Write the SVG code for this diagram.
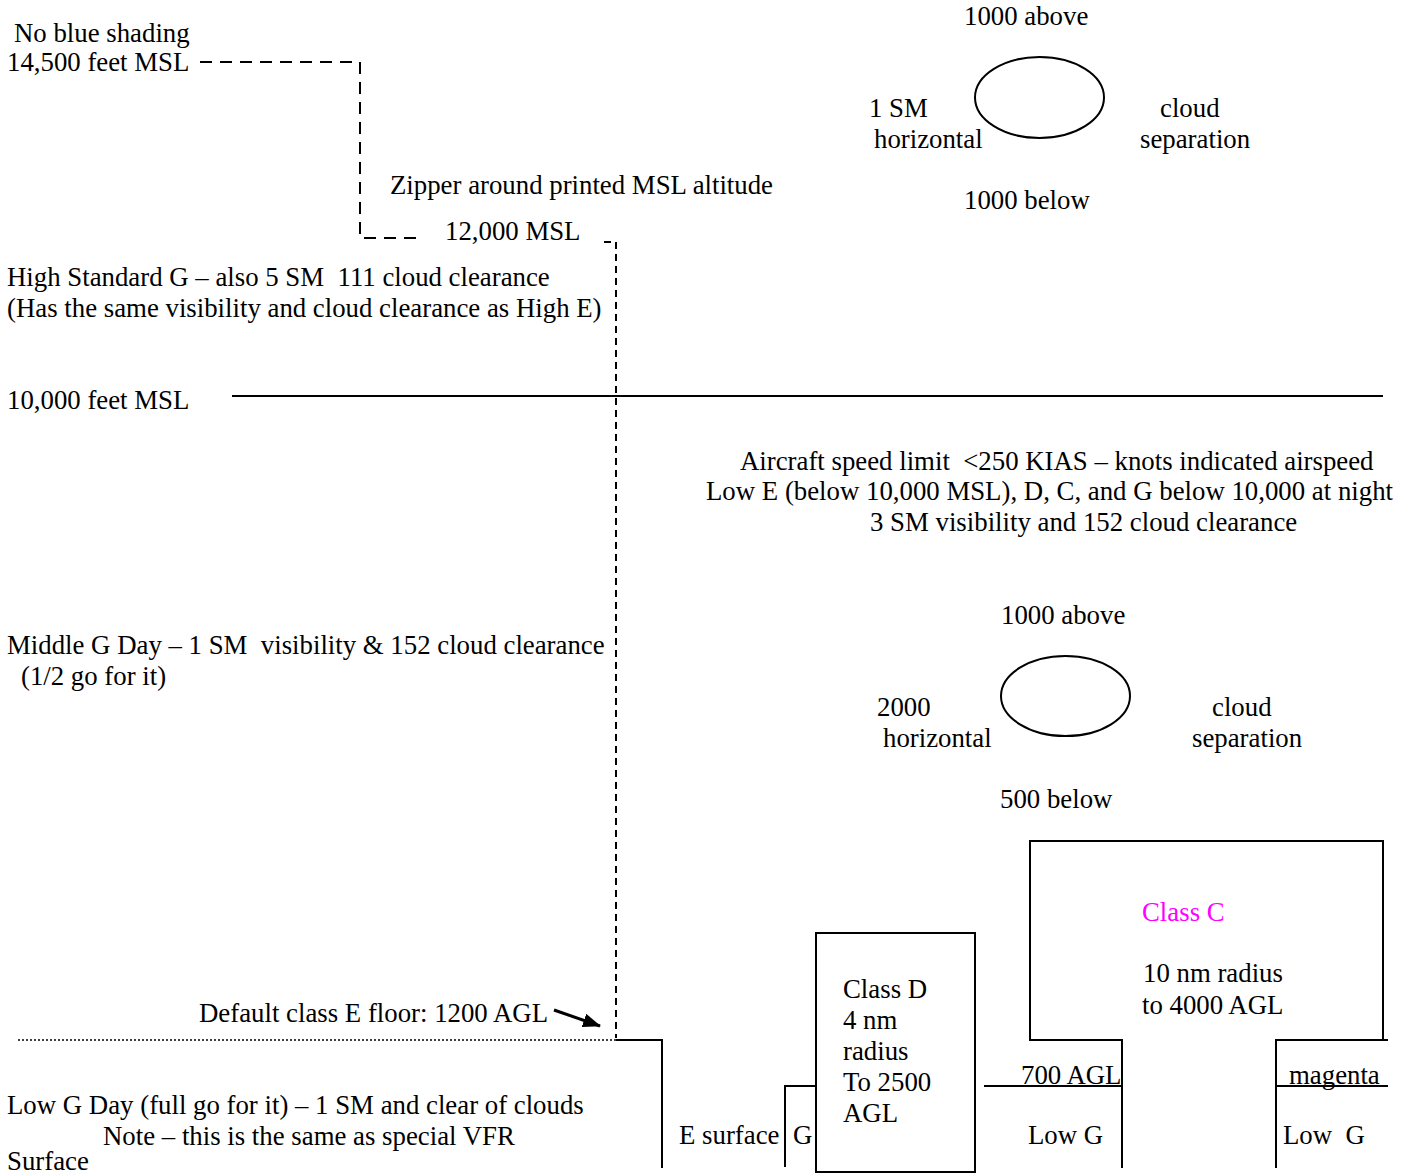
<svg xmlns="http://www.w3.org/2000/svg" width="1408" height="1176" viewBox="0 0 1408 1176">
<style>
text{font-family:"Liberation Serif","Times New Roman",serif;font-size:26.8px;fill:#000;white-space:pre}
.ln{stroke:#000;stroke-width:2;fill:none}
.dash{stroke:#000;stroke-width:2;fill:none;stroke-dasharray:12 8}
.dash2{stroke:#000;stroke-width:2;fill:none;stroke-dasharray:7 5}
.dot{stroke:#000;stroke-width:1.5;fill:none;stroke-dasharray:2 2}
.mag{fill:#ff00ff}
</style>
<defs>
<marker id="ah" markerWidth="18" markerHeight="14" refX="17" refY="7" orient="auto" markerUnits="userSpaceOnUse">
<path d="M0,0 L18,7 L0,14 z" fill="#000"/>
</marker>
</defs>
<rect width="1408" height="1176" fill="#fff"/>
<g id="connectors">
<path class="dash" d="M200,62 H360 V238 H420"/>
<path class="dash2" d="M604,242 H616 V1038"/>
<line class="ln" x1="232" y1="396" x2="1383" y2="396"/>
<line class="dot" x1="18" y1="1040" x2="616" y2="1040"/>
<path class="ln" d="M616,1040 H662 V1168"/>
<line x1="554" y1="1010" x2="600" y2="1026" stroke="#000" stroke-width="3" marker-end="url(#ah)"/>
<path class="ln" d="M785,1167 V1086 H816"/>
<line class="ln" x1="984" y1="1086" x2="1122" y2="1086"/>
<path class="ln" d="M1276,1168 V1040 H1388"/>
<line class="ln" x1="1276" y1="1086" x2="1388" y2="1086"/>
</g>
<g id="top-labels">
<text x="14" y="42">No blue shading</text>
<text x="7" y="71">14,500 feet MSL</text>
<text x="390" y="194">Zipper around printed MSL altitude</text>
<text x="445" y="240">12,000 MSL</text>
<text x="7" y="286">High Standard G – also 5 SM  111 cloud clearance</text>
<text x="7" y="317">(Has the same visibility and cloud clearance as High E)</text>
<text x="7" y="409">10,000 feet MSL</text>
</g>
<g id="cloud-high">
<ellipse class="ln" cx="1039.5" cy="97.5" rx="64.5" ry="40.5"/>
<text x="964" y="25">1000 above</text>
<text x="869" y="117">1 SM</text>
<text x="874" y="148">horizontal</text>
<text x="1160" y="117">cloud</text>
<text x="1140" y="148">separation</text>
<text x="964" y="209">1000 below</text>
</g>
<g id="speed-note">
<text x="740" y="470">Aircraft speed limit  &lt;250 KIAS – knots indicated airspeed</text>
<text x="706" y="500">Low E (below 10,000 MSL), D, C, and G below 10,000 at night</text>
<text x="870" y="531">3 SM visibility and 152 cloud clearance</text>
</g>
<g id="cloud-low">
<ellipse class="ln" cx="1065.5" cy="696" rx="64.5" ry="40"/>
<text x="1001" y="624">1000 above</text>
<text x="877" y="716">2000</text>
<text x="883" y="747">horizontal</text>
<text x="1212" y="716">cloud</text>
<text x="1192" y="747">separation</text>
<text x="1000" y="808">500 below</text>
</g>
<g id="middle-g">
<text x="7" y="654">Middle G Day – 1 SM  visibility &amp; 152 cloud clearance</text>
<text x="21" y="685">(1/2 go for it)</text>
</g>
<g id="e-floor">
<text x="199" y="1022">Default class E floor: 1200 AGL</text>
</g>
<g id="low-g">
<text x="7" y="1114">Low G Day (full go for it) – 1 SM and clear of clouds</text>
<text x="103" y="1145">Note – this is the same as special VFR</text>
<text x="7" y="1170">Surface</text>
</g>
<g id="e-surface">
<text x="679" y="1144">E surface</text>
<text x="793" y="1144">G</text>
</g>
<g id="class-d">
<rect class="ln" x="816" y="933" width="159" height="239"/>
<text x="843" y="998">Class D</text>
<text x="843" y="1029">4 nm</text>
<text x="843" y="1060">radius</text>
<text x="843" y="1091">To 2500</text>
<text x="843" y="1122">AGL</text>
</g>
<g id="low-g-d">
<text x="1021" y="1084">700 AGL</text>
<text x="1028" y="1144">Low G</text>
</g>
<g id="class-c">
<path class="ln" d="M1122,1168 V1040 H1030 V841 H1383 V1040"/>
<text class="mag" x="1142" y="921">Class C</text>
<text x="1143" y="982">10 nm radius</text>
<text x="1142" y="1014">to 4000 AGL</text>
</g>
<g id="low-g-c">
<text x="1289" y="1084">magenta</text>
<text x="1283" y="1144">Low  G</text>
</g>
</svg>
